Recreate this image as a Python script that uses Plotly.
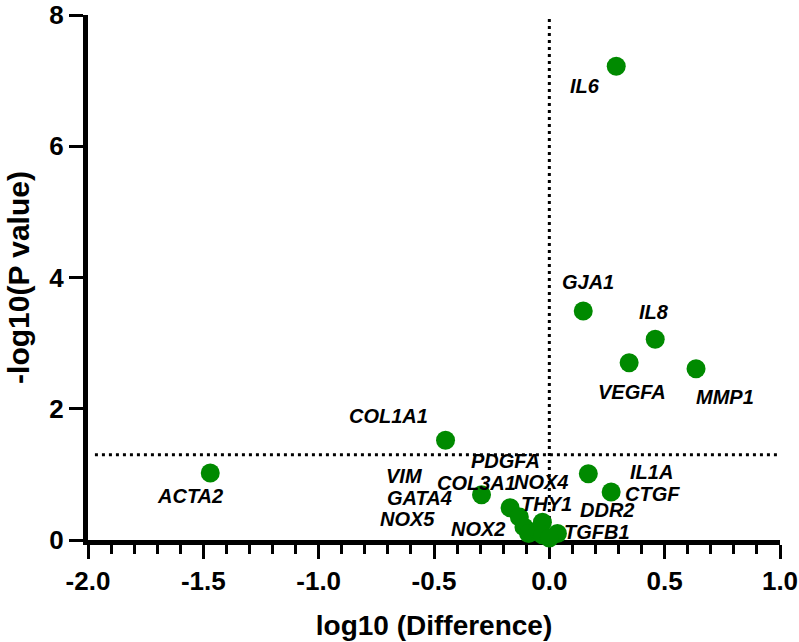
import plotly.graph_objects as go

# ---- data ----
genes = ["IL6", "GJA1", "IL8", "VEGFA", "MMP1", "COL1A1", "ACTA2", "IL1A", "CTGF",
         "COL3A1", "PDGFA", "VIM", "GATA4", "NOX5", "NOX2", "NOX4", "THY1", "DDR2", "TGFB1"]
log10_difference = [0.29, 0.147, 0.459, 0.346, 0.636, -0.45, -1.47, 0.169, 0.268,
                    -0.294, -0.17, -0.13, -0.11, -0.09, -0.05, -0.03, -0.03, 0.035, 0.0]
neg_log10_p = [7.22, 3.49, 3.06, 2.70, 2.61, 1.52, 1.02, 1.01, 0.73,
               0.69, 0.49, 0.35, 0.20, 0.10, 0.15, 0.27, 0.08, 0.10, 0.03]

x_ticks = [-2.0, -1.5, -1.0, -0.5, 0.0, 0.5, 1.0]
x_tick_labels = ["-2.0", "-1.5", "-1.0", "-0.5", "0.0", "0.5", "1.0"]
y_ticks = [0, 2, 4, 6, 8]
y_tick_labels = ["0", "2", "4", "6", "8"]

p_threshold = 1.3      # -log10(0.05)
diff_threshold = 0.0

# label offsets in pixels (xshift, yshift) -- styling only
label_offsets = {
    "IL6": (-31, -20), "GJA1": (5, 29), "IL8": (-1, 27), "VEGFA": (3, -29),
    "MMP1": (29, -28), "COL1A1": (-57, 24), "ACTA2": (-20, -23), "IL1A": (63, 2),
    "CTGF": (41, -2), "COL3A1": (-5, 12), "PDGFA": (-5, 47), "VIM": (-115, 41),
    "GATA4": (-104, 29), "NOX5": (-121, 14), "NOX2": (-60, 1), "NOX4": (-1, 40),
    "THY1": (4, 31), "DDR2": (50, 23), "TGFB1": (48, 6),
}

FONT = "Liberation Sans, Arial, sans-serif"

fig = go.Figure()
fig.add_trace(go.Scatter(
    x=log10_difference, y=neg_log10_p, mode="markers",
    marker=dict(color="#008a00", size=19, line=dict(width=0)),
    cliponaxis=False, showlegend=False, hoverinfo="text", text=genes,
))

for g, xv, yv in zip(genes, log10_difference, neg_log10_p):
    dx, dy = label_offsets[g]
    fig.add_annotation(x=xv, y=yv, text=g, showarrow=False, xshift=dx, yshift=dy,
                       font=dict(family=FONT, size=20, color="black",
                                 weight="bold", style="italic"))

dotted = dict(color="black", width=3, dash="3px,4px")
fig.add_shape(type="line", xref="x", yref="y", x0=-1.97, x1=1.0,
              y0=p_threshold, y1=p_threshold, line=dotted, layer="below")
fig.add_shape(type="line", xref="x", yref="y", x0=diff_threshold, x1=diff_threshold,
              y0=0, y1=8, line=dotted, layer="below")

fig.update_layout(
    width=799, height=642,
    margin=dict(l=88, r=19, t=15, b=102, autoexpand=False),
    paper_bgcolor="white", plot_bgcolor="white",
    font=dict(family=FONT, color="black"),
    xaxis=dict(
        range=[-2.0, 1.0], tickvals=x_ticks, ticktext=x_tick_labels, automargin=False,
        showgrid=False, zeroline=False, showline=True, linecolor="black", linewidth=5,
        ticks="outside", ticklen=14, tickwidth=3, tickcolor="black",
        minor=dict(dtick=0.1, tick0=0, ticks="outside", ticklen=9, tickwidth=3,
                   tickcolor="black", showgrid=False),
        tickfont=dict(family=FONT, size=26, weight="bold"),
        title=dict(text="log10 (Difference)", standoff=22,
                   font=dict(family=FONT, size=28, weight="bold")),
        layer="below traces",
    ),
    yaxis=dict(
        range=[0, 8], tickvals=y_ticks, ticktext=y_tick_labels, automargin=False,
        showgrid=False, zeroline=False, showline=True, linecolor="black", linewidth=5,
        ticks="outside", ticklen=14, tickwidth=3, tickcolor="black",
        tickfont=dict(family=FONT, size=26, weight="bold"),
        title=dict(text="-log10(P value)", standoff=12,
                   font=dict(family=FONT, size=30, weight="bold")),
        layer="below traces",
    ),
)

fig.write_html("out.html")
